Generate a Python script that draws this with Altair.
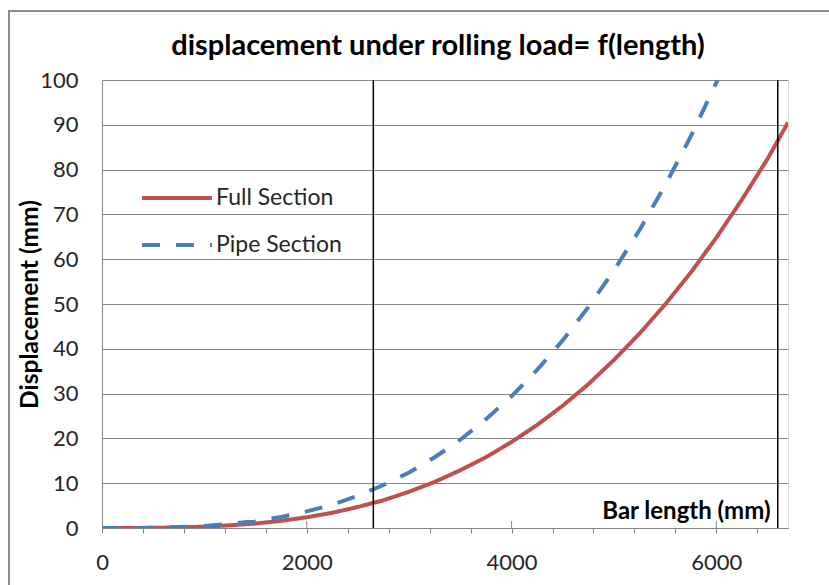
import altair as alt
import pandas as pd

# ---- data ----
length_full = [0, 250, 500, 750, 1000, 1250, 1500, 1750, 2000, 2250, 2500, 2750,
               3000, 3250, 3500, 3750, 4000, 4250, 4500, 4750, 5000, 5250, 5500,
               5750, 6000, 6250, 6500, 6700]
disp_full = [0, 0, 0.04, 0.13, 0.3, 0.6, 1.0, 1.6, 2.4, 3.4, 4.7, 6.2,
             8.1, 10.3, 12.9, 15.8, 19.2, 23.0, 27.3, 32.1, 37.5, 43.4, 49.9,
             57.0, 64.8, 73.3, 82.4, 90.5]

length_pipe = [0, 250, 500, 750, 1000, 1250, 1500, 1750, 2000, 2250, 2500, 2750,
               3000, 3250, 3500, 3750, 4000, 4250, 4500, 4750, 5000, 5250, 5500,
               5750, 6000, 6250]
disp_pipe = [0, 0, 0.06, 0.2, 0.46, 0.9, 1.55, 2.45, 3.7, 5.2, 7.2, 9.6,
             12.4, 15.8, 19.7, 24.3, 29.4, 35.3, 41.9, 49.3, 57.5, 66.5, 76.5,
             87.4, 99.4, 112.0]

series_names = ["Full Section", "Pipe Section"]
series_colors = ["#C0504D", "#4A7EBB"]

marker_lines = [2650, 6600]          # vertical black reference lines
minor_tick_values = list(range(0, 6701, 100))
major_tick_values = [2000, 4000, 6000]
y_ticks = list(range(0, 101, 10))

FONT = "Lato"
W, H = 686, 448

df = pd.concat([
    pd.DataFrame({"length": length_full, "disp": disp_full, "series": series_names[0]}),
    pd.DataFrame({"length": length_pipe, "disp": disp_pipe, "series": series_names[1]}),
])

xscale = alt.Scale(domain=[0, 6700], nice=False, zero=False)
yscale = alt.Scale(domain=[0, 100], nice=False)

lines = alt.Chart(df).mark_line(strokeWidth=4, clip=True, strokeCap="butt").encode(
    x=alt.X("length:Q", scale=xscale,
            axis=alt.Axis(values=minor_tick_values,
                          labelExpr="datum.value % 2000 === 0 ? format(datum.value, 'd') : ''",
                          labelOverlap=False, labelFlush=False,
                          grid=False, domainColor="#868686", tickColor="#868686",
                          tickSize=5, labelPadding=19, labelFontSize=22,
                          labelColor="#262626", labelFont=FONT,
                          title="Bar length (mm)", titleFont=FONT, titleFontSize=24,
                          titleFontWeight="bold", titleColor="#000000",
                          titleAlign="right", titleBaseline="alphabetic",
                          titleX=668, titleY=-10, titleAnchor=None)),
    y=alt.Y("disp:Q", scale=yscale,
            axis=alt.Axis(values=y_ticks, grid=True, gridColor="#868686",
                          domainColor="#868686", ticks=False, labelPadding=24,
                          labelFontSize=22, labelColor="#262626", labelFont=FONT,
                          title="Displacement (mm)", titleFont=FONT, titleFontSize=24.5,
                          titleFontWeight="bold", titleColor="#000000",
                          titleBaseline="alphabetic", titleX=-65, titleY=224,
                          titleAngle=-90)),
    color=alt.Color("series:N",
                    scale=alt.Scale(domain=series_names, range=series_colors),
                    legend=alt.Legend(title=None, orient="none", legendX=49, legendY=92,
                                      symbolType="M-1.46,0L1.46,0", symbolSize=2304,
                                      symbolStrokeWidth=4, labelOffset=13,
                                      rowPadding=9, padding=0,
                                      labelFont=FONT, labelFontSize=23,
                                      labelColor="#262626")),
    strokeDash=alt.StrokeDash("series:N",
                              scale=alt.Scale(domain=series_names, range=[[1, 0], [18, 16]]),
                              legend=None),
)

vlines = alt.Chart(pd.DataFrame({"x": marker_lines})).mark_rule(
    color="black", strokeWidth=1.5).encode(x=alt.X("x:Q", scale=xscale))

major_up = alt.Chart(pd.DataFrame({"x": major_tick_values})).mark_rule(
    color="#868686", strokeWidth=1).encode(
    x=alt.X("x:Q", scale=xscale), y=alt.value(H - 7), y2=alt.value(H))

frame = alt.Chart(pd.DataFrame({"a": [0]})).mark_rect(
    fillOpacity=0, stroke="#8c8c8c", strokeWidth=2).encode(
    x=alt.value(-93), y=alt.value(-69), x2=alt.value(W + 120), y2=alt.value(H + 120))

chart = alt.layer(frame, major_up, lines, vlines).properties(
    width=W, height=H,
    title=alt.TitleParams("displacement under rolling load= f(length)",
                          font=FONT, fontSize=29, fontWeight="bold", color="#000000",
                          anchor="middle", baseline="alphabetic", dx=-7, dy=88, offset=14),
    autosize=alt.AutoSizeParams(type="none"),
    padding={"left": 102, "top": 80, "right": 41, "bottom": 57},
).configure_view(stroke=None).configure(background="white")

chart.save("out.html", embed_options={"renderer": "svg", "actions": False})
